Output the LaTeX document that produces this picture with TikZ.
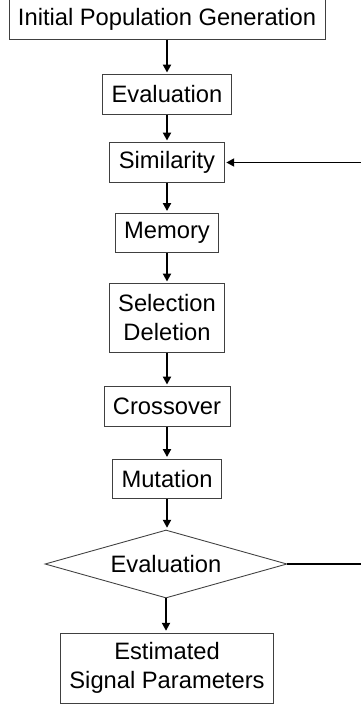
\documentclass[tikz,border=0pt]{standalone}
\usepackage{fontspec}
\setmainfont{Liberation Sans}
\usetikzlibrary{shapes.geometric,arrows.meta}
\begin{document}
\begin{tikzpicture}[shorten >=1pt,font=\fontsize{13.5}{16.5}\selectfont]
		\tikzstyle{stage}=[draw=black!75,line width=0.5pt,minimum height=0.79cm,inner xsep=0.18cm,align=center]
		\tikzstyle{flow}=[->,>={Triangle[length=4.5pt,width=4.5pt]},line width=1.1pt]
		\useasboundingbox (0,0) rectangle (7.22,-14.12);

		\node[stage](init) at (3.34,-0.39){Initial Population Generation};
		\node[stage](eval) at (3.34,-1.89){Evaluation};
		\node[stage](sim) at (3.34,-3.25){Similarity};
		\node[stage](mem) at (3.34,-4.66){Memory};
		\node[stage,minimum height=1.37cm](sel) at (3.34,-6.36){Selection\\Deletion};
		\node[stage](cross) at (3.34,-8.13){Crossover};
		\node[stage](mut) at (3.34,-9.58){Mutation};
		\node[draw=black!75,line width=0.5pt,shape=diamond,aspect=3.5,inner sep=1pt,minimum width=4.84cm,minimum height=1.36cm](dec) at (3.32,-11.28){Evaluation};
		\node[stage,minimum height=1.4cm](est) at (3.34,-13.36){Estimated\\Signal Parameters};
		\coordinate(back) at (7.5,-11.28);

		\draw[flow] (init) -- (eval);
		\draw[flow] (eval) -- (sim);
		\draw[flow] (sim) -- (mem);
		\draw[flow] (mem) -- (sel);
		\draw[flow] (sel) -- (cross);
		\draw[flow] (cross) -- (mut);
		\draw[flow] (mut) -- (mut|-dec.north);
		\draw[flow] (dec) -- (dec|-est.north);
		\draw[flow] (dec.east) -- (back) |- (sim.east);
	\end{tikzpicture}
\end{document}
